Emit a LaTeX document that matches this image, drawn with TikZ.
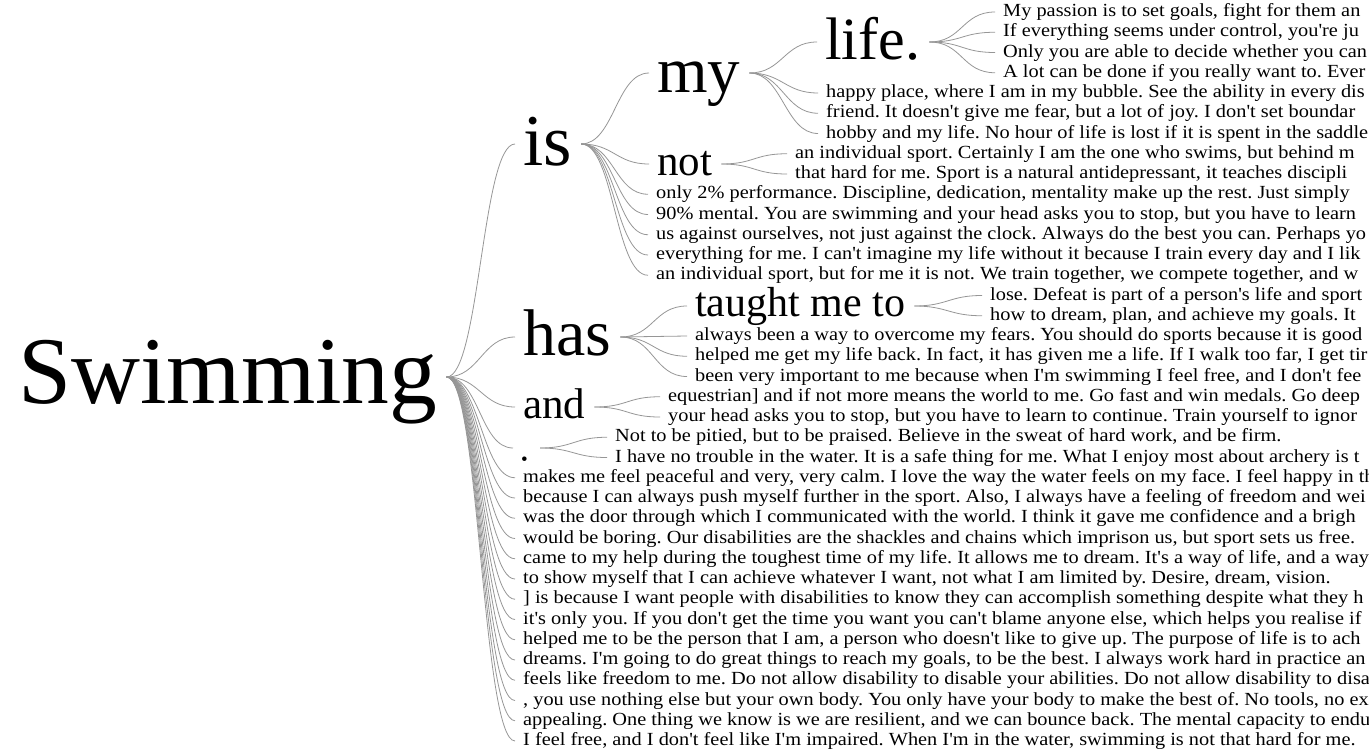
\documentclass[tikz,border=0pt]{standalone}
\usepackage{fontspec}
\setmainfont{Liberation Serif}
\newfontfamily\leaffont[FakeStretch=1.1,Ligatures=TeXOff]{Liberation Serif}
\definecolor{linegray}{RGB}{150,150,150}
\tikzset{
  word/.style={inner sep=0pt, anchor=base west, text=black},
  leaf/.style={inner sep=0pt, anchor=base west, text=black, font=\leaffont\fontsize{18.5}{18.5}\selectfont},
  conn/.style={draw=linegray, line width=0.8pt},
}
% #1 parent, #2 rise above its baseline, #3 child, #4 rise above child's baseline
\newcommand\wtlink[4]{\draw[conn] ([xshift=9pt,yshift=#2pt]#1.base east) .. controls +(33,0) and +(-33,0) .. ([xshift=-8pt,yshift=#4pt]#3.base west);}
\begin{document}
\frenchspacing
\begin{tikzpicture}[x=1pt,y=-1pt]
\useasboundingbox (0,0) rectangle (1369,755);
\clip (0,0) rectangle (1369,755);
% words
\node[word, font=\fontsize{95.5}{95.5}\selectfont] (swim) at (18,403) {Swimming};
\node[word, font=\fontsize{73}{73}\selectfont] (is) at (523,165) {is};
\node[word, font=\fontsize{65}{65}\selectfont] (my) at (657,92) {my};
\node[word, font=\fontsize{60}{60}\selectfont] (life) at (825,59) {life.};
\node[word, font=\fontsize{43}{43}\selectfont] (not) at (657,175) {not};
\node[word, font=\fontsize{66}{66}\selectfont] (has) at (523,355) {has};
\node[word, font=\fontsize{42}{42}\selectfont] (taught) at (695,316) {taught me to};
\node[word, font=\fontsize{43}{43}\selectfont] (and) at (523,418) {and};
\node[word, font=\fontsize{19}{19}\selectfont] (dot) at (521,465) {•};
% leaves
\begin{scope}[every node/.style={leaf}]
\node (l0) at (1003,16.50) {My passion is to set goals, fight for them an};
\node (l1) at (1003,36.75) {If everything seems under control, you're ju};
\node (l2) at (1003,57.00) {Only you are able to decide whether you can};
\node (l3) at (1003,77.25) {A lot can be done if you really want to. Ever};
\node (l4) at (826,97.50) {happy place, where I am in my bubble. See the ability in every dis};
\node (l5) at (826,117.75) {friend. It doesn't give me fear, but a lot of joy. I don't set boundar};
\node (l6) at (826,138.00) {hobby and my life. No hour of life is lost if it is spent in the saddle};
\node (l7) at (795,158.25) {an individual sport. Certainly I am the one who swims, but behind m};
\node (l8) at (795,178.50) {that hard for me. Sport is a natural antidepressant, it teaches discipli};
\node (l9) at (656,198.75) {only 2\% performance. Discipline, dedication, mentality make up the rest. Just simply};
\node (l10) at (656,219.00) {90\% mental. You are swimming and your head asks you to stop, but you have to learn};
\node (l11) at (656,239.25) {us against ourselves, not just against the clock. Always do the best you can. Perhaps yo};
\node (l12) at (656,259.50) {everything for me. I can't imagine my life without it because I train every day and I lik};
\node (l13) at (656,279.75) {an individual sport, but for me it is not. We train together, we compete together, and w};
\node (l14) at (990,300.00) {lose. Defeat is part of a person's life and sport};
\node (l15) at (990,320.25) {how to dream, plan, and achieve my goals. It};
\node (l16) at (695,340.50) {always been a way to overcome my fears. You should do sports because it is good};
\node (l17) at (695,360.75) {helped me get my life back. In fact, it has given me a life. If I walk too far, I get tir};
\node (l18) at (695,381.00) {been very important to me because when I'm swimming I feel free, and I don't fee};
\node (l19) at (668,401.25) {equestrian] and if not more means the world to me. Go fast and win medals. Go deep};
\node (l20) at (668,421.50) {your head asks you to stop, but you have to learn to continue. Train yourself to ignor};
\node (l21) at (615,441.75) {Not to be pitied, but to be praised. Believe in the sweat of hard work, and be firm.};
\node (l22) at (615,462.00) {I have no trouble in the water. It is a safe thing for me. What I enjoy most about archery is t};
\node (l23) at (523,482.25) {makes me feel peaceful and very, very calm. I love the way the water feels on my face. I feel happy in th};
\node (l24) at (523,502.50) {because I can always push myself further in the sport. Also, I always have a feeling of freedom and wei};
\node (l25) at (523,522.75) {was the door through which I communicated with the world. I think it gave me confidence and a brigh};
\node (l26) at (523,543.00) {would be boring. Our disabilities are the shackles and chains which imprison us, but sport sets us free.};
\node (l27) at (523,563.25) {came to my help during the toughest time of my life. It allows me to dream. It's a way of life, and a way};
\node (l28) at (523,583.50) {to show myself that I can achieve whatever I want, not what I am limited by. Desire, dream, vision.};
\node (l29) at (523,603.75) {] is because I want people with disabilities to know they can accomplish something despite what they h};
\node (l30) at (523,624.00) {it's only you. If you don't get the time you want you can't blame anyone else, which helps you realise if};
\node (l31) at (523,644.25) {helped me to be the person that I am, a person who doesn't like to give up. The purpose of life is to ach};
\node (l32) at (523,664.50) {dreams. I'm going to do great things to reach my goals, to be the best. I always work hard in practice an};
\node (l33) at (523,684.75) {feels like freedom to me. Do not allow disability to disable your abilities. Do not allow disability to disa};
\node (l34) at (523,705.00) {, you use nothing else but your own body. You only have your body to make the best of. No tools, no ex};
\node (l35) at (523,725.25) {appealing. One thing we know is we are resilient, and we can bounce back. The mental capacity to endu};
\node (l36) at (523,745.50) {I feel free, and I don't feel like I'm impaired. When I'm in the water, swimming is not that hard for me.};
\end{scope}
% connectors
\wtlink{swim}{26}{is}{21}
\wtlink{swim}{26}{has}{18}
\wtlink{swim}{26}{and}{11}
\wtlink{swim}{26}{dot}{17}
\foreach \i in {23,...,36} {\wtlink{swim}{26}{l\i}{4.5}}
\wtlink{is}{21}{my}{19}
\wtlink{is}{21}{not}{11}
\foreach \i in {9,...,13} {\wtlink{is}{21}{l\i}{4.5}}
\wtlink{my}{19}{life}{17}
\foreach \i in {4,5,6} {\wtlink{my}{19}{l\i}{4.5}}
\foreach \i in {0,...,3} {\wtlink{life}{17}{l\i}{4.5}}
\foreach \i in {7,8} {\wtlink{not}{11}{l\i}{4.5}}
\wtlink{has}{18}{taught}{10}
\foreach \i in {16,17,18} {\wtlink{has}{18}{l\i}{4.5}}
\foreach \i in {14,15} {\wtlink{taught}{10}{l\i}{4.5}}
\foreach \i in {19,20} {\wtlink{and}{11}{l\i}{4.5}}
\foreach \i in {21,22} {\draw[conn] ([xshift=12pt,yshift=17pt]dot.base east) .. controls +(33,0) and +(-33,0) .. ([xshift=-8pt,yshift=4.5pt]l\i.base west);}
\end{tikzpicture}
\end{document}
